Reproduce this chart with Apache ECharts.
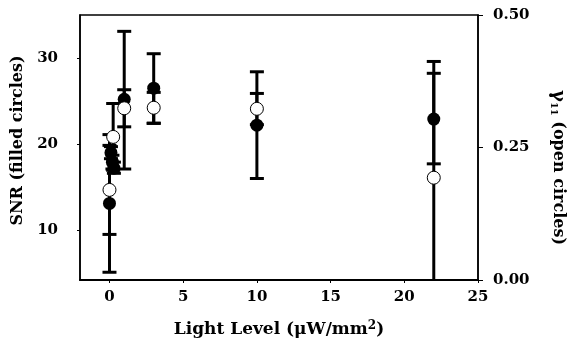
<!DOCTYPE html>
<html><head><meta charset="utf-8">
<script src="https://cdn.jsdelivr.net/npm/echarts@6/dist/echarts.min.js"></script>
<style>html,body{margin:0;padding:0;background:#fff}#c{width:572px;height:350px}</style>
</head><body><div id="c"></div>
<script>
// SNR (filled circles), left axis
var snrX  = [0, 0.1, 0.2, 0.3, 1, 3, 10, 22];
var snrY  = [13.1, 19.0, 17.9, 17.2, 25.2, 26.5, 22.2, 22.9];
var snrLo = [5.1, 18.3, 17.1, 16.6, 17.1, 22.4, 16.0, 17.7];
var snrHi = [21.1, 19.7, 18.7, 17.9, 33.1, 30.5, 28.4, 29.6];
// gamma11 (open circles), right axis
var gX  = [0, 0.25, 1, 3, 10, 22];
var gY  = [0.17, 0.27, 0.324, 0.325, 0.323, 0.193];
var gLo = [0.086, 0.207, 0.289, 0.296, 0.293, -0.005];
var gHi = [0.254, 0.333, 0.359, 0.354, 0.352, 0.39];
// tick labels
var xTicks = [0, 5, 10, 15, 20, 25];
var ySnrTicks = [10, 20, 30];

var FONT = '"DejaVu Serif", serif';
function zip(a, b) { return a.map(function (v, i) { return [v, b[i]]; }); }
function errData(x, lo, hi) { return x.map(function (v, i) { return [v, lo[i], hi[i]]; }); }
function errRender(params, api) {
  var x = api.value(0);
  var p1 = api.coord([x, api.value(1)]);
  var p2 = api.coord([x, api.value(2)]);
  var hw = 7;
  var st = { stroke: '#000', lineWidth: 3 };
  return { type: 'group', children: [
    { type: 'line', shape: { x1: p1[0], y1: p1[1], x2: p2[0], y2: p2[1] }, style: st },
    { type: 'line', shape: { x1: p1[0] - hw, y1: p1[1], x2: p1[0] + hw, y2: p1[1] }, style: st },
    { type: 'line', shape: { x1: p2[0] - hw, y1: p2[1], x2: p2[0] + hw, y2: p2[1] }, style: st }
  ]};
}

var chart = echarts.init(document.getElementById('c'), null, { renderer: 'canvas' });
chart.setOption({
  animation: false,
  backgroundColor: '#fff',
  grid: { left: 80, right: 94, top: 15, bottom: 70, show: true, borderColor: '#000', borderWidth: 1.5,
    backgroundColor: 'transparent', containLabel: false, outerBoundsMode: 'none' },
  xAxis: {
    type: 'value', min: -2, max: 25,
    axisLine: { show: true, onZero: false, lineStyle: { color: '#000', width: 2 } },
    axisTick: { show: true, length: 3, customValues: xTicks, lineStyle: { color: '#000' } },
    axisLabel: { customValues: xTicks, margin: 10, color: '#000', fontFamily: FONT, fontWeight: 'bold', fontSize: 15 },
    splitLine: { show: false },
    name: '{t|Light Level (\u03bcW/mm}{s|2}{t|)}',
    nameLocation: 'middle', nameGap: 40,
    nameTextStyle: { rich: {
      t: { fontFamily: FONT, fontWeight: 'bold', fontSize: 17, color: '#000' },
      s: { fontFamily: FONT, fontWeight: 'bold', fontSize: 12, color: '#000', verticalAlign: 'top', padding: [0, 0, 8, 0] }
    } }
  },
  yAxis: [{
    type: 'value', min: 4.2, max: 35, position: 'left',
    axisLine: { show: true, onZero: false, lineStyle: { color: '#000', width: 1.5 } },
    axisTick: { show: true, length: 3, customValues: ySnrTicks, lineStyle: { color: '#000' } },
    axisLabel: { customValues: ySnrTicks, margin: 22, color: '#000', fontFamily: FONT, fontWeight: 'bold', fontSize: 15 },
    splitLine: { show: false },
    name: 'SNR (filled circles)', nameLocation: 'middle', nameGap: 46,
    nameTextStyle: { fontFamily: FONT, fontWeight: 'bold', fontSize: 16, color: '#000', padding: [0, 0, 0, 14] }
  }, {
    type: 'value', min: 0, max: 0.5, interval: 0.25, position: 'right',
    axisLine: { show: true, onZero: false, lineStyle: { color: '#000', width: 1.5 } },
    axisTick: { show: true, length: 5, lineStyle: { color: '#000' } },
    axisLabel: { margin: 15, color: '#000', fontFamily: FONT, fontWeight: 'bold', fontSize: 15,
      formatter: function (v) { return v.toFixed(2); } },
    splitLine: { show: false },
    name: '{g|\u03b3}{s|11}{t| (open circles)}', nameLocation: 'middle', nameGap: 71, nameRotate: -90,
    nameTextStyle: { padding: [0, 0, 0, 40], rich: {
      g: { fontFamily: FONT, fontWeight: 'bold', fontSize: 18, color: '#000' },
      s: { fontFamily: FONT, fontWeight: 'bold', fontSize: 10, color: '#000', verticalAlign: 'bottom' },
      t: { fontFamily: FONT, fontWeight: 'bold', fontSize: 16, color: '#000' }
    } }
  }],
  series: [
    { type: 'custom', yAxisIndex: 0, renderItem: errRender, data: errData(snrX, snrLo, snrHi), clip: true, z: 2 },
    { type: 'custom', yAxisIndex: 1, renderItem: errRender, data: errData(gX, gLo, gHi), clip: true, z: 2 },
    { type: 'scatter', yAxisIndex: 0, data: zip(snrX, snrY), symbol: 'circle', symbolSize: 13,
      itemStyle: { color: '#000', opacity: 1 }, z: 3 },
    { type: 'scatter', yAxisIndex: 1, data: zip(gX, gY), symbol: 'circle', symbolSize: 13,
      itemStyle: { color: '#fff', borderColor: '#000', borderWidth: 1, opacity: 1 }, z: 4 }
  ]
});
</script></body></html>
